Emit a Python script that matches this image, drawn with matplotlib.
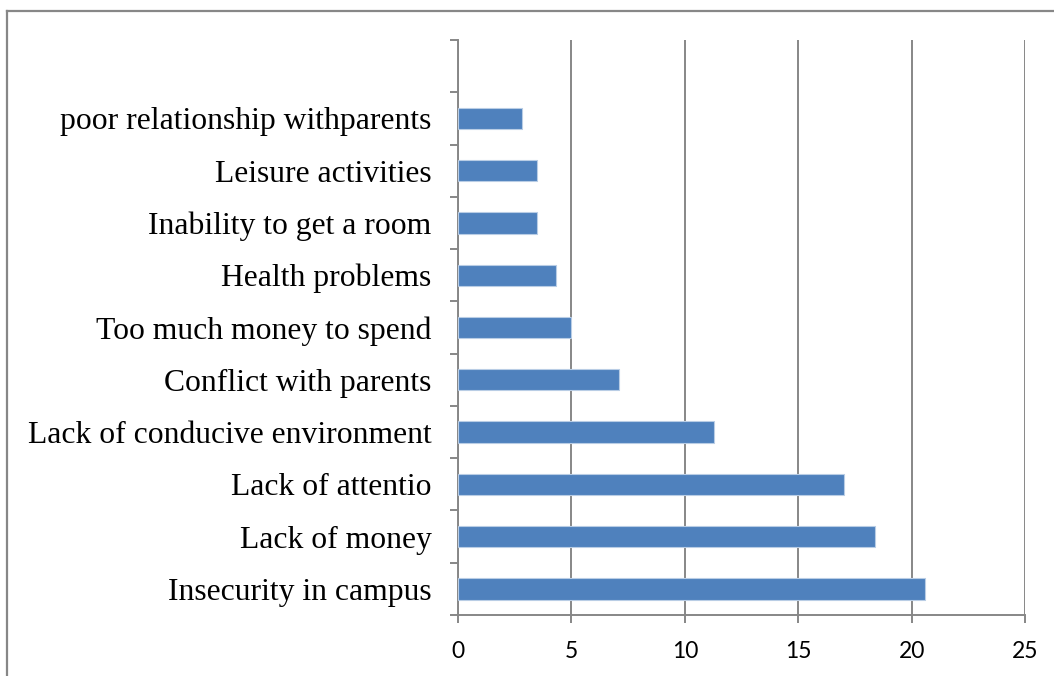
import matplotlib.pyplot as plt
from matplotlib.lines import Line2D
import numpy as np

# categories bottom to top
categories = ['Insecurity in campus', 'Lack of money', 'Lack of attentio',
              'Lack of conducive environment', 'Conflict with parents',
              'Too much money to spend', 'Health problems',
              'Inability to get a room', 'Leisure activities',
              'poor relationship withparents']
values = [20.6, 18.4, 17.0, 11.3, 7.1, 5.0, 4.3, 3.5, 3.5, 2.8]
xticks = [0, 5, 10, 15, 20, 25]

W, H = 1054, 676
fig = plt.figure(figsize=(W / 100, H / 100), dpi=100)
ax = fig.add_axes([458 / W, 1 - 615 / H, (1025 - 458) / W, (615 - 40) / H])

y = np.arange(len(categories))
ax.barh(y, values, height=0.41, color='#4F81BD', edgecolor='#B9CDE5',
        linewidth=0.8, zorder=3)

ax.set_xlim(0, 25)
ax.set_ylim(-0.5, len(categories) + 0.5)
ax.set_xticks(xticks)
ax.set_xticklabels([str(t) for t in xticks], fontfamily='Lato', fontsize=16.5)
ax.set_yticks(y)
ax.set_yticklabels(categories, fontfamily='Liberation Serif', fontsize=22.8)
ax.set_yticks(np.arange(-0.5, len(categories) + 1, 1), minor=True)

grey = '#878787'
ax.tick_params(axis='y', which='major', length=0, pad=19)
ax.tick_params(axis='y', which='minor', length=6, width=1.4, color=grey)
ax.tick_params(axis='x', length=6, width=1.4, color=grey, pad=13)
ax.grid(axis='x', color=grey, linewidth=1.4, zorder=0)
for s in ['top', 'right']:
    ax.spines[s].set_visible(False)
for s in ['left', 'bottom']:
    ax.spines[s].set_color(grey)
    ax.spines[s].set_linewidth(1.4)

# outer chart frame (only top and left visible in the crop)
fig.add_artist(Line2D([6.5 / W, 1], [1 - 10.5 / H, 1 - 10.5 / H],
                      transform=fig.transFigure, color=grey, linewidth=1.6))
fig.add_artist(Line2D([6.5 / W, 6.5 / W], [0, 1 - 10.5 / H],
                      transform=fig.transFigure, color=grey, linewidth=1.6))

fig.savefig('out.png', dpi=100)
